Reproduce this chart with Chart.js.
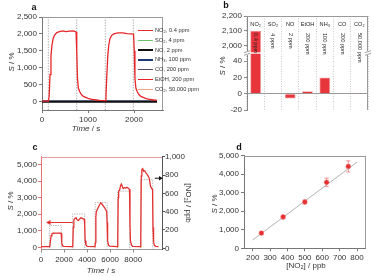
<!DOCTYPE html>
<html>
<head>
<meta charset="utf-8">
<script src="https://cdn.jsdelivr.net/npm/chart.js"></script>
<style>
  body { margin: 0; background: #fff; }
  #fig { position: relative; width: 375px; height: 276px; overflow: hidden; font-family: 'Liberation Sans', Arial, sans-serif; color: #333; }
  #fig canvas { position: absolute; }
  .tag { position: absolute; font-weight: bold; font-size: 9px; color: #111; transform: translate(-50%, -50%); }
  .ttl { position: absolute; font-size: 8px; white-space: nowrap; transform: translate(-50%, -50%); }
  .up { transform: translate(-50%, -50%) rotate(-90deg); }
  .down { transform: translate(-50%, -50%) rotate(90deg); }
  sub { font-size: 70%; vertical-align: -0.25em; line-height: 0; }
  #legA { position: absolute; left: 138px; top: 26px; font-size: 5.7px; }
  #legA div { height: 9.8px; line-height: 9.8px; white-space: nowrap; }
  #legA .sw { display: inline-block; width: 15px; height: 1.3px; vertical-align: middle; margin-right: 2px; }
</style>
</head>
<body>
<div id="fig">
  <canvas id="ca" width="205" height="140" style="left:0;top:0"></canvas>
  <canvas id="cb" width="180" height="140" style="left:195px;top:0"></canvas>
  <canvas id="cc" width="195" height="138" style="left:0;top:138px"></canvas>
  <canvas id="cd" width="180" height="138" style="left:195px;top:138px"></canvas>
  <div id="legA"></div>

  <div class="tag" style="left:34px;top:6.5px">a</div>
  <div class="tag" style="left:226px;top:5px">b</div>
  <div class="tag" style="left:35px;top:147px">c</div>
  <div class="tag" style="left:239px;top:146.5px">d</div>

  <div class="ttl up" style="left:10.5px;top:62px"><i>S</i> / %</div>
  <div class="ttl" style="left:86px;top:128px"><i>Time</i> / s</div>
  <div class="ttl up" style="left:222px;top:66px"><i>S</i> / %</div>
  <div class="ttl up" style="left:10px;top:201px"><i>S</i> / %</div>
  <div class="ttl" style="left:101px;top:270px"><i>Time</i> / s</div>
  <div class="ttl down" style="left:188px;top:203px">[NO<sub>2</sub>] / ppb</div>
  <div class="ttl up" style="left:214px;top:204px"><i>S</i> / %</div>
  <div class="ttl" style="left:306px;top:265px">[NO<sub>2</sub>] / ppb</div>
</div>

<script>
// ---- a: response vs time
const aTime = [0,140,155,175,195,215,240,270,320,380,450,520,600,680,740,755,770,790,820,860,900,1000,1100,1250,1375,1390,1410,1430,1450,1475,1510,1560,1650,1750,1850,1950,1990,2005,2020,2040,2070,2110,2150,2250,2350,2500];
const aNO2 = [10,10,150,800,1350,1650,1850,1960,2040,2070,2090,2070,2080,2090,2060,1500,700,400,290,200,150,95,60,35,25,150,800,1350,1650,1850,1950,2000,2030,2030,2010,2000,1990,1500,700,400,290,200,150,95,60,35];
const aNames = ['NO<sub>2</sub>, 0.4 ppm', 'SO<sub>2</sub>, 4 ppm', 'NO, 2 ppm', 'NH<sub>3</sub>, 100 ppm', 'CO, 200 ppm', 'EtOH, 200 ppm', 'CO<sub>2</sub>, 50,000 ppm'];
const aColors = ['#e8262a', '#6cc36c', '#111111', '#1d3b72', '#5b4a6e', '#ea1f2b', '#f4a08a'];
const aBase = [0, -6, 20, 0, 3, 1];      // SO2, NO, NH3, CO, EtOH, CO2
const aSpan = [0, 2500];
const aSwitch = [137, 754, 1376, 1985];
const aXTicks = [0, 1000, 2000];
const aYTicks = [0, 500, 1000, 1500, 2000, 2500];

// ---- b: selectivity bars
const bGas = ['NO₂', 'SO₂', 'NO', 'EtOH', 'NH₃', 'CO', 'CO₂'];
const bConc = ['0.4 ppm', '4 ppm', '2 ppm', '200 ppm', '100 ppm', '200 ppm', '50,000 ppm'];
const bResp = [2100, 0, -6, 3, 20, 0, 1];
const bLowTicks = [-20, 0, 20, 40];
const bHighTicks = [2000, 2100, 2200];

// ---- c: NO2 steps
const cTime = [0,700,760,820,880,950,1050,1300,1500,1700,1760,1800,1850,1950,2700,
  2760,2800,2850,2950,3050,3150,3250,3350,3450,3600,3750,3790,3830,3900,4000,4680,
  4720,4760,4800,4900,5000,5100,5200,5300,5450,5600,5700,5740,5780,5850,5950,6630,
  6660,6700,6740,6820,6900,6970,7050,7130,7250,7350,7450,7550,7680,7720,7760,7850,7950,8620,
  8660,8700,8750,8830,8900,9000,9100,9200,9300,9400,9500,9600,9680,9720,9770,9850,9950,10200];
const cS = [40,40,60,400,700,820,850,860,855,850,830,300,120,60,40,
  100,1200,1650,1750,1780,1650,1620,1700,1780,1750,1700,1400,400,150,60,40,
  300,1800,2150,2300,2450,2600,2680,2600,2450,2300,2150,1500,400,150,70,40,
  400,3000,3400,3450,3700,3820,3700,3550,3600,3580,3620,3580,3500,1500,400,150,60,40,
  500,4300,4700,4750,4600,4620,4500,4400,4300,4150,3700,3550,3500,1200,300,120,60,40];
const cOn = [750, 2750, 4700, 6650, 8650];
const cOff = [1770, 3790, 5740, 7700, 9700];
const cPpb = [250, 375, 500, 625, 750];
const cArrowS = { from: 2750, to: 700, at: 1500 };
const cArrowPpb = { from: 9880, to: 10350, at: 765 };
const cXTicks = [0, 2000, 4000, 6000, 8000];
const cYTicks = [0, 1000, 2000, 3000, 4000, 5000];
const cY1Ticks = [0, 200, 400, 600, 800, 1000];

// ---- d: calibration
const dX = [250, 375, 500, 625, 750];
const dY = [820, 1690, 2500, 3560, 4420];
const dErr = [70, 90, 100, 230, 300];
const dFitX = [200, 800];
const dFitY = [450, 4650];
const dXTicks = [200, 300, 400, 500, 600, 700, 800];
const dYTicks = [0, 1000, 2000, 3000, 4000, 5000];

const FONT = "'Liberation Sans', Arial, sans-serif";
Chart.defaults.font.family = FONT;
Chart.defaults.font.size = 8;
Chart.defaults.color = '#333';
Chart.defaults.animation = false;
Chart.defaults.responsive = false;
Chart.defaults.plugins.legend.display = false;
Chart.defaults.plugins.tooltip.enabled = false;
Chart.defaults.elements.point.radius = 0;

function xy(xs, ys) { return xs.map((x, i) => ({ x: x, y: ys[i] })); }

// put the ticks exactly where the figure has them
function useTicks(values) {
  return function (s) { s.ticks = values.map(v => ({ value: v })); };
}

// plain frame lines on chosen sides of the plot area
const frame = {
  id: 'frame',
  afterDatasetsDraw(chart, args, o) {
    const a = chart.chartArea, c = chart.ctx;
    const L = Math.round(a.left) + 0.5, R = Math.round(a.right) - 0.5;
    const T = Math.round(a.top) + 0.5, B = Math.round(a.bottom) - 0.5;
    c.save();
    c.strokeStyle = o.color || '#999';
    c.lineWidth = 1;
    c.beginPath();
    if (o.sides.includes('t')) { c.moveTo(L - 0.5, T); c.lineTo(R + 0.5, T); }
    if (o.sides.includes('r')) { c.moveTo(R, T); c.lineTo(R, B + 0.5); }
    if (o.sides.includes('b')) { c.moveTo(L - 0.5, B); c.lineTo(R + 0.5, B); }
    c.stroke();
    c.restore();
  }
};

const gridOut = (col) => ({ drawOnChartArea: false, tickLength: 3, color: col });

// legend for a
const leg = document.getElementById('legA');
aNames.forEach((n, i) => {
  const row = document.createElement('div');
  row.innerHTML = '<span class="sw" style="background:' + aColors[i] + ';height:' + (i === 2 ? 2 : 1.3) + 'px"></span>' + n;
  leg.appendChild(row);
});

// ================= a =================
const dsA = [{
  data: xy(aTime, aNO2), borderColor: aColors[0], borderWidth: 1.3, order: 0
}];
aBase.forEach((v, i) => {
  dsA.push({
    data: xy(aSpan, [v, v]), borderColor: aColors[i + 1],
    borderWidth: i === 1 ? 2 : 1, order: i === 1 ? 1 : 2
  });
});
aSwitch.forEach(t => {
  dsA.push({
    data: xy([t, t], [-250, 2500]), borderColor: '#888', borderWidth: 0.8,
    borderDash: [1.2, 1.5], order: 3
  });
});

new Chart(document.getElementById('ca'), {
  type: 'line',
  data: { datasets: dsA },
  options: {
    layout: { padding: { top: 17, right: 42, bottom: 0, left: 0 } },
    scales: {
      x: {
        type: 'linear', min: 0, max: 2630,
        afterFit: s => { s.height = 30; },
        afterBuildTicks: useTicks(aXTicks),
        ticks: { padding: 2, autoSkip: false, maxRotation: 0, callback: v => String(v) },
        grid: gridOut('#777'), border: { color: '#777' }
      },
      y: {
        type: 'linear', min: -250, max: 2500,
        afterFit: s => { s.width = 42; },
        afterBuildTicks: useTicks(aYTicks),
        ticks: { padding: 2, autoSkip: false },
        grid: gridOut('#777'), border: { color: '#777' }
      }
    },
    plugins: { frame: { sides: 'tr', color: '#999' } }
  },
  plugins: [frame]
});

// ================= b =================
const bText = {
  id: 'bText',
  afterDraw(chart) {
    const { ctx, chartArea: a, scales: { x, y2 } } = chart;
    const yb = y2.bottom;
    ctx.save();
    // axis break
    ctx.fillStyle = '#fff';
    ctx.fillRect(a.left + 1, yb - 0.7, a.width - 2, 1.4);
    [a.left, a.right].forEach(x0 => {
      ctx.fillStyle = '#fff';
      ctx.fillRect(x0 - 2.5, yb - 2, 5, 4);
      ctx.strokeStyle = '#888';
      ctx.lineWidth = 0.8;
      ctx.beginPath();
      ctx.moveTo(x0 - 3, yb - 0.3); ctx.lineTo(x0 + 3, yb - 2.3);
      ctx.moveTo(x0 - 3, yb + 2.3); ctx.lineTo(x0 + 3, yb + 0.3);
      ctx.stroke();
    });
    // gas names and concentrations
    ctx.fillStyle = '#222';
    ctx.font = '5.6px ' + FONT;
    ctx.textBaseline = 'middle';
    bGas.forEach((g, i) => {
      const px = x.getPixelForValue(i);
      ctx.textAlign = 'center';
      ctx.fillText(g, px, a.top + 8);
      ctx.save();
      ctx.translate(px, a.top + 17);
      ctx.rotate(Math.PI / 2);
      ctx.textAlign = 'left';
      ctx.fillText(bConc[i], 0, 0);
      ctx.restore();
    });
    ctx.restore();
  }
};

const barStyle = {
  grouped: false, clip: 0, backgroundColor: '#e8353b', borderColor: '#f29a9a',
  borderWidth: 0.8, barPercentage: 0.62, categoryPercentage: 1
};

new Chart(document.getElementById('cb'), {
  type: 'bar',
  data: {
    labels: bGas,
    datasets: [
      Object.assign({ data: bResp, yAxisID: 'y' }, barStyle),
      Object.assign({ data: bResp.map(v => v >= 1950 ? v : null), yAxisID: 'y2' }, barStyle)
    ]
  },
  options: {
    layout: { padding: { top: 16, right: 7, bottom: 0, left: 0 } },
    scales: {
      x: {
        offset: true,
        afterFit: s => { s.height = 30; },
        ticks: { display: false },
        grid: { offset: true, drawTicks: false, color: '#bbb', lineWidth: 0.8 },
        border: { display: false, dash: [1, 1.5] }
      },
      y: {
        type: 'linear', position: 'left', stack: 'b', stackWeight: 57, min: -20, max: 50,
        afterFit: s => { s.width = 52; },
        afterBuildTicks: useTicks(bLowTicks),
        ticks: { padding: 2, autoSkip: false },
        grid: {
          color: c => (c.tick && c.tick.value === 0) ? '#999' : 'rgba(0,0,0,0)',
          tickColor: '#888', tickLength: 3
        },
        border: { color: '#888' }
      },
      y2: {
        type: 'linear', position: 'left', stack: 'b', stackWeight: 37, min: 1950, max: 2200,
        afterFit: s => { s.width = 52; },
        afterBuildTicks: useTicks(bHighTicks),
        ticks: { padding: 2, autoSkip: false },
        grid: gridOut('#888'), border: { color: '#888' }
      }
    },
    plugins: { frame: { sides: 'tr', color: '#999' } }
  },
  plugins: [frame, bText]
});

// ================= c =================
const cSteps = [];
cOn.forEach((t, i) => {
  cSteps.push({ x: t, y: 0 }, { x: t, y: cPpb[i] }, { x: cOff[i], y: cPpb[i] }, { x: cOff[i], y: 0 }, { x: cOff[i], y: null });
});

new Chart(document.getElementById('cc'), {
  type: 'line',
  data: {
    datasets: [
      { data: xy(cTime, cS), yAxisID: 'y', borderColor: '#e4312f', borderWidth: 1.3, order: 0 },
      { data: cSteps, yAxisID: 'y1', borderColor: '#999', borderWidth: 0.8, borderDash: [1.2, 1.2], spanGaps: false, order: 2 },
      {
        data: xy([cArrowS.from, cArrowS.to], [cArrowS.at, cArrowS.at]), yAxisID: 'y',
        borderColor: '#e4312f', borderWidth: 1.2, pointRadius: [0, 3], pointStyle: 'triangle',
        rotation: 270, pointBackgroundColor: '#e4312f', pointBorderWidth: 0, order: 1
      },
      {
        data: xy([cArrowPpb.from, cArrowPpb.to], [cArrowPpb.at, cArrowPpb.at]), yAxisID: 'y1',
        borderColor: '#111', borderWidth: 1, pointRadius: [0, 2.5], pointStyle: 'triangle',
        rotation: 90, pointBackgroundColor: '#111', pointBorderWidth: 0, clip: false, order: 1
      }
    ]
  },
  options: {
    layout: { padding: { top: 18.7, right: 0, bottom: 0, left: 0 } },
    scales: {
      x: {
        type: 'linear', min: 0, max: 10500,
        afterFit: s => { s.height = 26.5; },
        afterBuildTicks: useTicks(cXTicks),
        ticks: { padding: 2, autoSkip: false, maxRotation: 0, callback: v => String(v) },
        grid: gridOut('#888'), border: { color: '#999' }
      },
      y: {
        type: 'linear', position: 'left', min: -130, max: 5470,
        afterFit: s => { s.width = 41; },
        afterBuildTicks: useTicks(cYTicks),
        ticks: { padding: 1, autoSkip: false },
        grid: gridOut('#e57373'), border: { color: '#e57373' }
      },
      y1: {
        type: 'linear', position: 'right', min: -13, max: 1000,
        afterFit: s => { s.width = 33; },
        afterBuildTicks: useTicks(cY1Ticks),
        ticks: { padding: 0, autoSkip: false },
        grid: gridOut('#555'), border: { color: '#555' }
      }
    },
    plugins: { frame: { sides: 't', color: '#e8a0a0' } }
  },
  plugins: [frame]
});

// ================= d =================
const dsD = [
  { data: xy(dFitX, dFitY), borderColor: '#aaa', borderWidth: 0.9, order: 3 },
  {
    data: xy(dX, dY), showLine: false, pointRadius: 2.4, pointStyle: 'circle',
    pointBackgroundColor: '#e4312f', pointBorderColor: '#f07070', pointBorderWidth: 0.6, order: 0
  }
];
dX.forEach((x, i) => {
  dsD.push({
    data: xy([x, x], [dY[i] - dErr[i], dY[i] + dErr[i]]),
    borderColor: '#f08080', borderWidth: 0.8, pointStyle: 'line', pointRadius: 2.2,
    pointBorderColor: '#f08080', pointBorderWidth: 0.8, order: 1
  });
});

new Chart(document.getElementById('cd'), {
  type: 'line',
  data: { datasets: dsD },
  options: {
    layout: { padding: { top: 17.7, right: 9.3, bottom: 0, left: 0 } },
    scales: {
      x: {
        type: 'linear', min: 150, max: 850,
        afterFit: s => { s.height = 27.7; },
        afterBuildTicks: useTicks(dXTicks),
        ticks: { padding: 2, autoSkip: false, maxRotation: 0, callback: v => String(v) },
        grid: gridOut('#777'), border: { color: '#777' }
      },
      y: {
        type: 'linear', min: 0, max: 5000,
        afterFit: s => { s.width = 49; },
        afterBuildTicks: useTicks(dYTicks),
        ticks: { padding: 2, autoSkip: false },
        grid: gridOut('#777'), border: { color: '#777' }
      }
    },
    plugins: { frame: { sides: 'tr', color: '#999' } }
  },
  plugins: [frame]
});
</script>
</body>
</html>
